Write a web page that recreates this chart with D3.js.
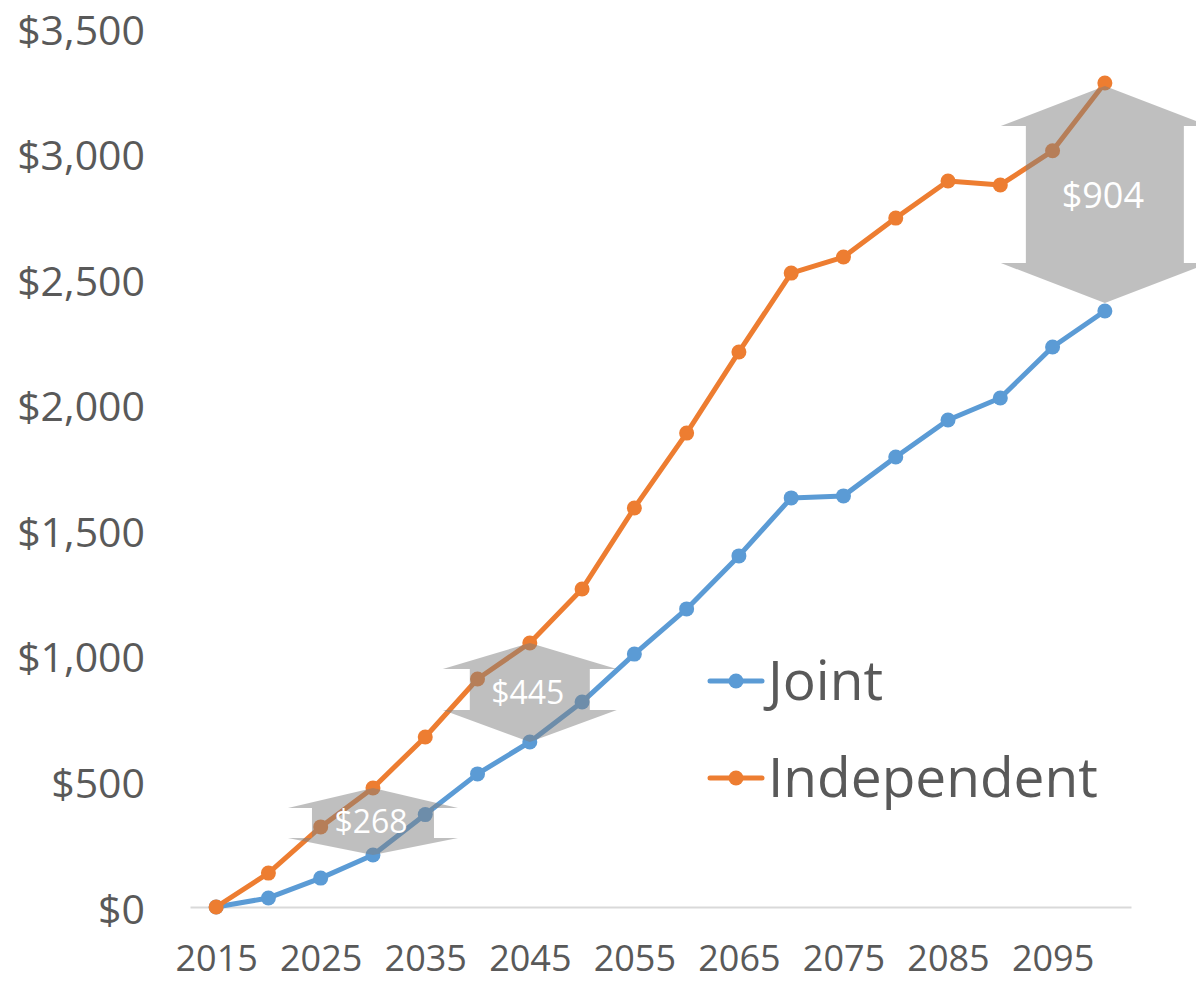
<!DOCTYPE html>
<html>
<head>
<meta charset="utf-8">
<script src="https://cdn.jsdelivr.net/npm/d3@7"></script>
<style>
  html, body { margin: 0; padding: 0; background: #ffffff; overflow: hidden; }
  svg { display: block; }
  text { font-family: "Open Sans", "Noto Sans", sans-serif; }
</style>
</head>
<body>
<div id="chart"></div>
<script>
// ---- Data ----
const years = [2015, 2020, 2025, 2030, 2035, 2040, 2045, 2050, 2055, 2060, 2065, 2070, 2075, 2080, 2085, 2090, 2095, 2100];
const jointValues = [0, 36, 115, 207, 368, 530, 657, 816, 1007, 1187, 1398, 1629, 1637, 1792, 1939, 2027, 2230, 2373];
const independentValues = [0, 135, 319, 474, 677, 908, 1051, 1266, 1589, 1887, 2210, 2524, 2588, 2743, 2891, 2875, 3011, 3281];
const seriesNames = ["Joint", "Independent"];
const xTickLabels = [2015, 2025, 2035, 2045, 2055, 2065, 2075, 2085, 2095];
const yTickValues = [0, 500, 1000, 1500, 2000, 2500, 3000, 3500];
const gapYears = [2030, 2045, 2100];
const gapLabels = ["$268", "$445", "$904"];

// ---- Styles / geometry ----
const W = 1196, H = 982;
const colors = { Joint: "#5b9bd5", Independent: "#ed7d31" };
const textColor = "#595959";
const arrowShapes = [
  { headHalf: 85, shaftHalf: 61, headTop: 20, headBottom: 17, insetTop: 0, insetBottom: 0, fontSize: 32 },
  { headHalf: 87, shaftHalf: 60, headTop: 26, headBottom: 32, insetTop: 0, insetBottom: 0, fontSize: 32 },
  { headHalf: 104, shaftHalf: 79, headTop: 40, headBottom: 40, insetTop: 3, insetBottom: 8, fontSize: 36 }
];

const svg = d3.select("#chart").append("svg")
  .attr("width", W).attr("height", H);

const x = d3.scalePoint().domain(years).range([190, 1131]).padding(0.5);
const y = d3.scaleLinear().domain([0, 3500]).range([907, 28]);

// Y axis labels (no line)
const fmt = v => "$" + d3.format(",")(v);
const yAxis = d3.axisLeft(y).tickValues(yTickValues).tickFormat(fmt).tickSize(0).tickPadding(0);
const gy = svg.append("g").attr("transform", "translate(145,0)").call(yAxis);
gy.select(".domain").remove();
gy.selectAll("text")
  .attr("font-size", 41).attr("fill", textColor)
  .attr("font-family", '"Open Sans", sans-serif')
  .attr("dy", null).attr("y", 16).attr("x", 0)
  .attr("text-anchor", "end");

// X axis
const xAxis = d3.axisBottom(x).tickValues(xTickLabels).tickSize(0).tickPadding(0);
const gx = svg.append("g").attr("transform", `translate(0,${y(0)})`).call(xAxis);
gx.select(".domain").attr("stroke", "#d9d9d9").attr("stroke-width", 2);
gx.selectAll("text")
  .attr("font-size", 36).attr("fill", textColor)
  .attr("font-family", '"Open Sans", sans-serif')
  .attr("dy", null).attr("y", 64);

// Series
const series = [
  { name: "Joint", values: jointValues },
  { name: "Independent", values: independentValues }
];
const line = d3.line().x((d, i) => x(years[i])).y(d => y(d));

series.forEach(s => {
  svg.append("path")
    .datum(s.values)
    .attr("fill", "none")
    .attr("stroke", colors[s.name])
    .attr("stroke-width", 5)
    .attr("stroke-linejoin", "round")
    .attr("stroke-linecap", "round")
    .attr("d", line);
  svg.append("g").selectAll("circle")
    .data(s.values)
    .join("circle")
    .attr("cx", (d, i) => x(years[i]))
    .attr("cy", d => y(d))
    .attr("r", 7.5)
    .attr("fill", colors[s.name]);
});

// Gap arrows
gapYears.forEach((yr, k) => {
  const i = years.indexOf(yr);
  const sh = arrowShapes[k];
  const cx = x(yr);
  const top = y(independentValues[i]) + sh.insetTop;
  const bot = y(jointValues[i]) - sh.insetBottom;
  const pts = [
    [cx, top],
    [cx + sh.headHalf, top + sh.headTop],
    [cx + sh.shaftHalf, top + sh.headTop],
    [cx + sh.shaftHalf, bot - sh.headBottom],
    [cx + sh.headHalf, bot - sh.headBottom],
    [cx, bot],
    [cx - sh.headHalf, bot - sh.headBottom],
    [cx - sh.shaftHalf, bot - sh.headBottom],
    [cx - sh.shaftHalf, top + sh.headTop],
    [cx - sh.headHalf, top + sh.headTop]
  ];
  svg.append("polygon")
    .attr("points", pts.map(p => p.join(",")).join(" "))
    .attr("fill", "#7f7f7f")
    .attr("fill-opacity", 0.5);
  svg.append("text")
    .attr("x", cx - 2)
    .attr("y", (top + bot) / 2 + sh.fontSize * 0.37)
    .attr("text-anchor", "middle")
    .attr("font-size", sh.fontSize)
    .attr("fill", "#ffffff")
    .text(gapLabels[k]);
});

// Legend
const legend = svg.append("g");
seriesNames.forEach((name, k) => {
  const ly = 681 + k * 97;
  const g = legend.append("g");
  g.append("line")
    .attr("x1", 710).attr("x2", 762).attr("y1", ly).attr("y2", ly)
    .attr("stroke", colors[name]).attr("stroke-width", 5).attr("stroke-linecap", "round");
  g.append("circle").attr("cx", 736).attr("cy", ly).attr("r", 7.5).attr("fill", colors[name]);
  g.append("text")
    .attr("x", 768).attr("y", ly + 19)
    .attr("font-size", 55).attr("fill", textColor)
    .text(name);
});
</script>
</body>
</html>
